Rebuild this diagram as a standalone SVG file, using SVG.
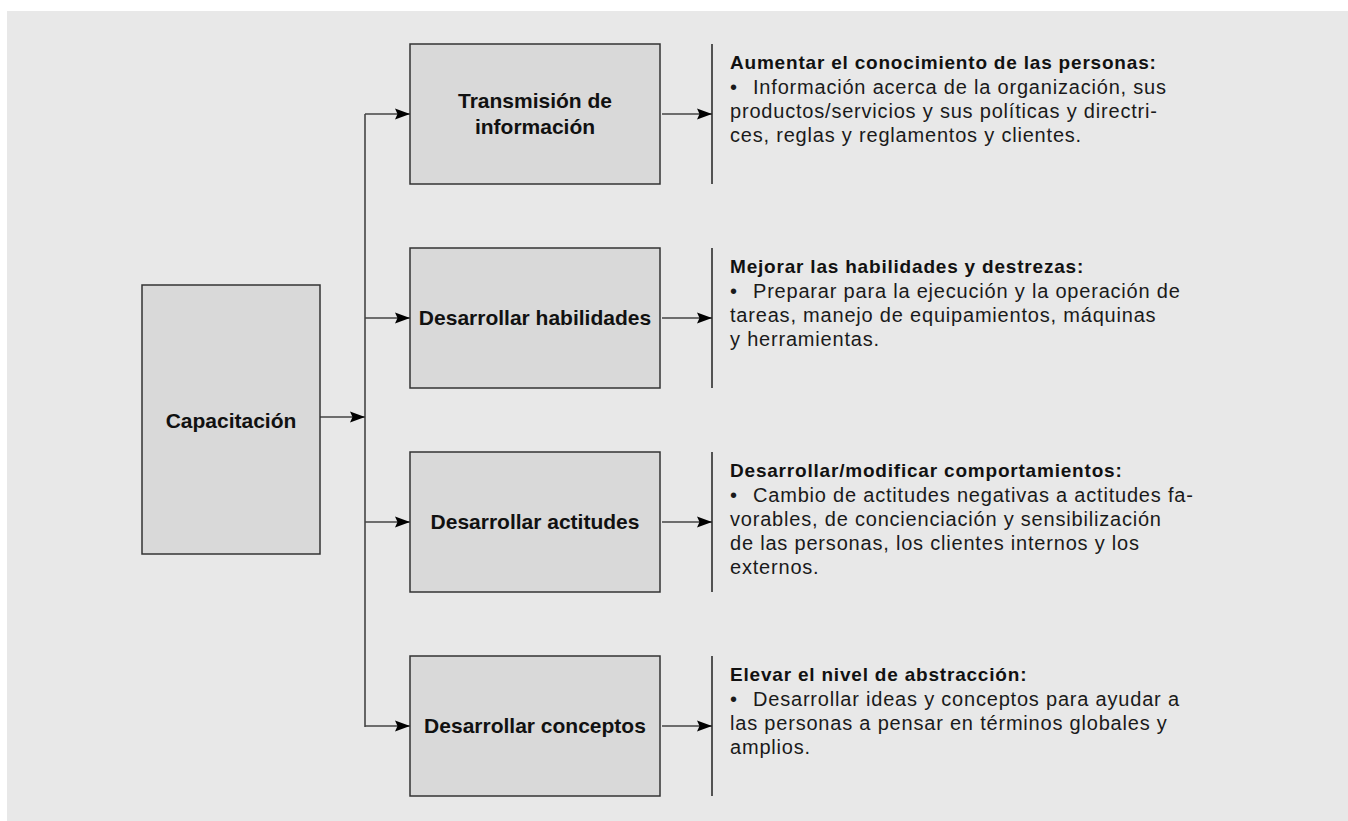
<svg xmlns="http://www.w3.org/2000/svg" width="1348" height="821" viewBox="0 0 1348 821">
<style>
.bg{fill:#e8e8e8}
.box{fill:#d9d9d9;stroke:#333;stroke-width:1.5}
.lbl{font-family:"Liberation Sans",Arial,sans-serif;font-weight:bold;font-size:21px;fill:#111;text-anchor:middle}
.hd{font-family:"Liberation Sans",Arial,sans-serif;font-weight:bold;font-size:19px;letter-spacing:0.8px;fill:#111}
.tx{font-family:"Liberation Sans",Arial,sans-serif;font-size:20px;letter-spacing:0.8px;fill:#1a1a1a}
.ln{stroke:#444;stroke-width:1.6;fill:none}
.bar{stroke:#222;stroke-width:1.5}
</style>
<defs>
<marker id="ah" markerWidth="15" markerHeight="12" refX="15" refY="6" orient="auto" markerUnits="userSpaceOnUse">
<path d="M0,0.5 L15,6 L0,11.5 L2.5,6 Z" fill="#000"/>
</marker>
</defs>
<rect class="bg" x="7" y="11" width="1341" height="810"/>
<g id="connectors">
<line class="ln" x1="365" y1="114" x2="365" y2="727"/>
<line class="ln" x1="320" y1="417" x2="365" y2="417" marker-end="url(#ah)"/>
<line class="ln" x1="365" y1="114" x2="410" y2="114" marker-end="url(#ah)"/>
<line class="ln" x1="365" y1="318" x2="410" y2="318" marker-end="url(#ah)"/>
<line class="ln" x1="365" y1="522" x2="410" y2="522" marker-end="url(#ah)"/>
<line class="ln" x1="365" y1="726" x2="410" y2="726" marker-end="url(#ah)"/>
<line class="ln" x1="662" y1="114" x2="712" y2="114" marker-end="url(#ah)"/>
<line class="ln" x1="662" y1="318" x2="712" y2="318" marker-end="url(#ah)"/>
<line class="ln" x1="662" y1="522" x2="712" y2="522" marker-end="url(#ah)"/>
<line class="ln" x1="662" y1="726" x2="712" y2="726" marker-end="url(#ah)"/>
</g>
<g id="capacitacion">
<rect class="box" x="142" y="285" width="178" height="269"/>
<text class="lbl" x="231" y="428">Capacitación</text>
</g>
<g id="transmision">
<rect class="box" x="410" y="44" width="250" height="140"/>
<text class="lbl" x="535" y="108">Transmisión de</text>
<text class="lbl" x="535" y="134">información</text>
</g>
<g id="habilidades">
<rect class="box" x="410" y="248" width="250" height="140"/>
<text class="lbl" x="535" y="325">Desarrollar habilidades</text>
</g>
<g id="actitudes">
<rect class="box" x="410" y="452" width="250" height="140"/>
<text class="lbl" x="535" y="529">Desarrollar actitudes</text>
</g>
<g id="conceptos">
<rect class="box" x="410" y="656" width="250" height="140"/>
<text class="lbl" x="535" y="733">Desarrollar conceptos</text>
</g>
<g id="desc1">
<line class="bar" x1="712" y1="44" x2="712" y2="184"/>
<text class="hd" x="730" y="69">Aumentar el conocimiento de las personas:</text>
<text class="tx" x="730" y="94"><tspan>•</tspan><tspan x="753">Información acerca de la organización, sus</tspan></text>
<text class="tx" x="730" y="118">productos/servicios y sus políticas y directri-</text>
<text class="tx" x="730" y="142">ces, reglas y reglamentos y clientes.</text>
</g>
<g id="desc2">
<line class="bar" x1="712" y1="248" x2="712" y2="388"/>
<text class="hd" x="730" y="273">Mejorar las habilidades y destrezas:</text>
<text class="tx" x="730" y="298"><tspan>•</tspan><tspan x="753">Preparar para la ejecución y la operación de</tspan></text>
<text class="tx" x="730" y="322">tareas, manejo de equipamientos, máquinas</text>
<text class="tx" x="730" y="346">y herramientas.</text>
</g>
<g id="desc3">
<line class="bar" x1="712" y1="452" x2="712" y2="592"/>
<text class="hd" x="730" y="477">Desarrollar/modificar comportamientos:</text>
<text class="tx" x="730" y="502"><tspan>•</tspan><tspan x="753">Cambio de actitudes negativas a actitudes fa-</tspan></text>
<text class="tx" x="730" y="526">vorables, de concienciación y sensibilización</text>
<text class="tx" x="730" y="550">de las personas, los clientes internos y los</text>
<text class="tx" x="730" y="574">externos.</text>
</g>
<g id="desc4">
<line class="bar" x1="712" y1="656" x2="712" y2="796"/>
<text class="hd" x="730" y="681">Elevar el nivel de abstracción:</text>
<text class="tx" x="730" y="706"><tspan>•</tspan><tspan x="753">Desarrollar ideas y conceptos para ayudar a</tspan></text>
<text class="tx" x="730" y="730">las personas a pensar en términos globales y</text>
<text class="tx" x="730" y="754">amplios.</text>
</g>
</svg>
